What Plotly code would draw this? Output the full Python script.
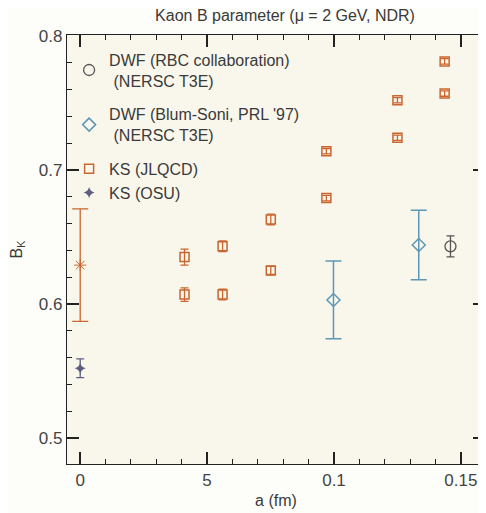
import plotly.graph_objects as go

# KS (JLQCD): two series of points per lattice spacing
jlqcd_a = [0.0411, 0.0411, 0.0561, 0.0561, 0.0751, 0.0751, 0.0970, 0.0970, 0.1250, 0.1250, 0.1436, 0.1436]
jlqcd_bk = [0.635, 0.607, 0.643, 0.607, 0.663, 0.625, 0.714, 0.679, 0.752, 0.724, 0.781, 0.757]
jlqcd_err = [0.006, 0.005, 0.004, 0.004, 0.004, 0.003, 0.002, 0.002, 0.002, 0.002, 0.002, 0.002]

# JLQCD continuum value at a = 0
jlqcd_cont_a = [0.0]
jlqcd_cont_bk = [0.629]
jlqcd_cont_err = [0.042]

# KS (OSU)
osu_a = [0.0]
osu_bk = [0.552]
osu_err = [0.007]

# DWF (Blum-Soni, PRL '97)
bs_a = [0.0998, 0.1334]
bs_bk = [0.603, 0.644]
bs_err = [0.029, 0.026]

# DWF (RBC collaboration)
rbc_a = [0.1459]
rbc_bk = [0.643]
rbc_err = [0.0078]

# tick labels as printed (the scan shows "5" where 0.05 would be)
x_tickvals = [0, 0.05, 0.1, 0.15]
x_ticktext = ["0", "5", "0.1", "0.15"]

X_RANGE = [-0.0052, 0.1595]
Y_RANGE = [0.4806, 0.8007]

ORANGE = "#c9652f"
BLUE = "#5d97b5"
DARK = "#555555"
PURPLE = "#5e5e82"
AXIS = "#222222"
TEXT = "#3a3a3a"

fig = go.Figure()

fig.add_trace(go.Scatter(
    x=rbc_a, y=rbc_bk, mode="markers",
    name="DWF (RBC collaboration)<br> (NERSC T3E)",
    legendgroup="rbc",
    marker=dict(symbol="circle-open", size=11, color=DARK, line=dict(width=1.3)),
    error_y=dict(type="data", array=rbc_err, color=DARK, thickness=1.3, width=4),
))
fig.add_trace(go.Scatter(
    x=bs_a, y=bs_bk, mode="markers",
    name="DWF (Blum-Soni, PRL '97)<br> (NERSC T3E)",
    legendgroup="bs",
    marker=dict(symbol="diamond-open", size=10, color=BLUE, line=dict(width=1.5)),
    error_y=dict(type="data", array=bs_err, color=BLUE, thickness=1.5, width=8),
))
fig.add_trace(go.Scatter(
    x=jlqcd_a, y=jlqcd_bk, mode="markers",
    name="KS (JLQCD)",
    legendgroup="ks",
    marker=dict(symbol="square-open", size=9, color=ORANGE, line=dict(width=1.5)),
    error_y=dict(type="data", array=jlqcd_err, color=ORANGE, thickness=1.3, width=4),
))
fig.add_trace(go.Scatter(
    x=jlqcd_cont_a, y=jlqcd_cont_bk, mode="markers",
    showlegend=False,
    legendgroup="ks",
    marker=dict(symbol="asterisk-open", size=10, color=ORANGE, line=dict(width=1, color=ORANGE)),
    error_y=dict(type="data", array=jlqcd_cont_err, color=ORANGE, thickness=1.3, width=8),
))
fig.add_trace(go.Scatter(
    x=osu_a, y=osu_bk, mode="markers",
    name="KS (OSU)",
    legendgroup="ks",
    marker=dict(symbol="star-diamond", size=8, color=PURPLE),
    error_y=dict(type="data", array=osu_err, color=PURPLE, thickness=1.3, width=4),
))

# page body adds an 8px offset, so the figure is 8px smaller than the window
fig.update_layout(
    width=478,
    height=505,
    margin=dict(l=59, r=1, t=27, b=49),
    paper_bgcolor="#fdfdf9",
    plot_bgcolor="#f9f7eb",
    font=dict(family="Liberation Sans, Arial, sans-serif", size=16, color=TEXT),
    title=dict(
        text="Kaon B parameter (\u03bc = 2 GeV, NDR)",
        x=0.5795, xanchor="center", y=0.986, yanchor="middle",
        font=dict(size=16, color=TEXT),
    ),
    legend=dict(
        x=0.005, y=0.982, xanchor="left", yanchor="top",
        bgcolor="rgba(0,0,0,0)",
        font=dict(size=16, color=TEXT),
        tracegroupgap=10,
        itemclick=False,
    ),
    showlegend=True,
)

fig.update_xaxes(
    range=X_RANGE,
    tickmode="array", tickvals=x_tickvals, ticktext=x_ticktext,
    ticks="inside", ticklen=12, tickwidth=1.6, tickcolor=AXIS,
    minor=dict(tickmode="linear", tick0=0, dtick=0.01, ticks="inside", ticklen=5, tickwidth=1.4, tickcolor=AXIS),
    showline=True, linecolor=AXIS, linewidth=1.3, mirror="ticks",
    showgrid=False, zeroline=False, automargin=False, layer="above traces",
    title=dict(text="a (fm)", standoff=6, font=dict(size=16)),
    tickfont=dict(size=17, color="#444444"),
)
fig.update_yaxes(
    range=Y_RANGE,
    tickmode="linear", tick0=0.5, dtick=0.1, tickformat=".1f",
    ticks="inside", ticklen=12, tickwidth=1.6, tickcolor=AXIS,
    minor=dict(ticks="inside", ticklen=5, tickwidth=1.4, tickcolor=AXIS, dtick=0.02),
    showline=True, linecolor=AXIS, linewidth=1.3, mirror="ticks",
    showgrid=False, zeroline=False, automargin=False, layer="above traces",
    title=dict(text="B<sub>K</sub>", standoff=14, font=dict(size=16)),
    tickfont=dict(size=17, color="#444444"),
)

fig.write_html("out.html")
